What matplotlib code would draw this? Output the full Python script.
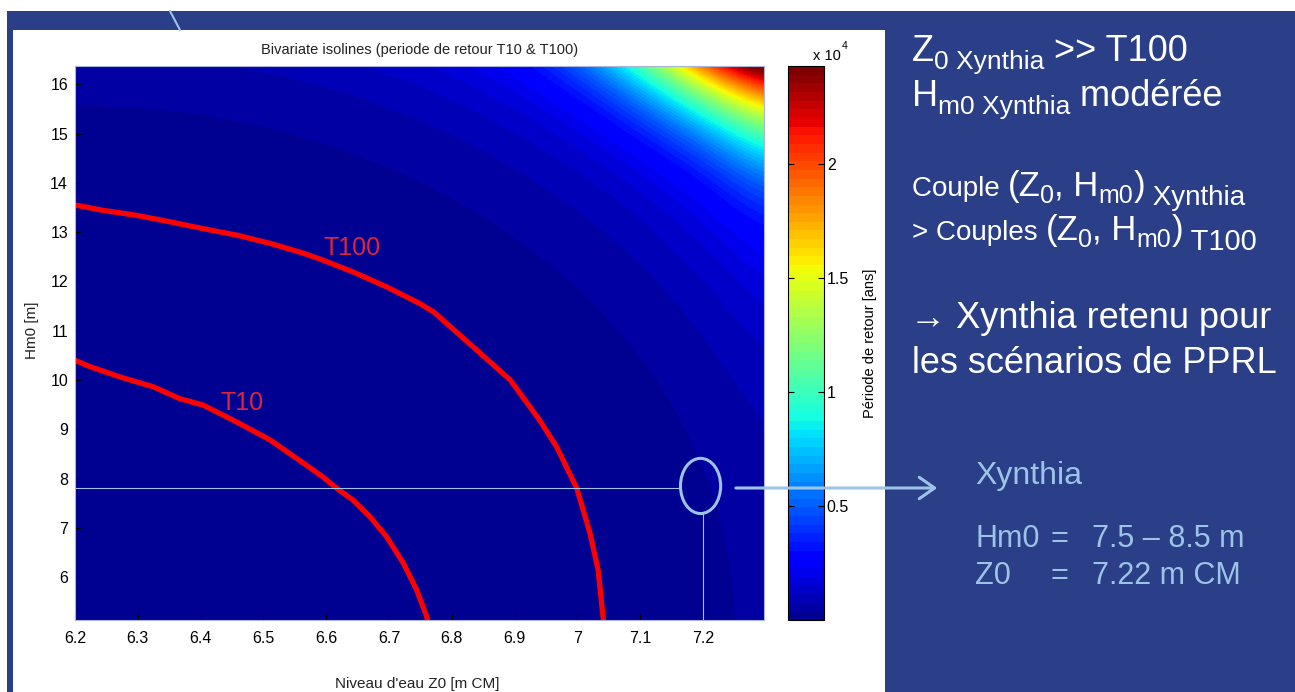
import numpy as np
import matplotlib
matplotlib.use('Agg')
import matplotlib.pyplot as plt
from matplotlib import colors, cm
from matplotlib.patches import Rectangle, Ellipse, FancyArrowPatch

# ---- values ----
z0_grid = [6.2, 6.3, 6.4, 6.5, 6.6, 6.7, 6.8, 6.9, 7.0, 7.1, 7.2, 7.3]
hm0_grid = [5, 6, 7, 8, 9, 10, 11, 12, 13, 14, 15, 16, 17]
# log10 of the return period (years), rows = hm0_grid, cols = z0_grid
log10_T = [
    [-0.77, -0.47, -0.14, 0.19, 0.52, 0.85, 1.19, 1.53, 1.86, 2.17, 2.44, 2.72],
    [-0.50, -0.36, -0.08, 0.23, 0.55, 0.88, 1.21, 1.54, 1.88, 2.18, 2.46, 2.73],
    [-0.17, -0.09, 0.11, 0.37, 0.66, 0.97, 1.29, 1.61, 1.94, 2.22, 2.49, 2.77],
    [0.16, 0.21, 0.36, 0.58, 0.83, 1.11, 1.41, 1.72, 2.03, 2.29, 2.56, 2.83],
    [0.49, 0.53, 0.65, 0.83, 1.05, 1.30, 1.58, 1.87, 2.14, 2.39, 2.65, 2.91],
    [0.82, 0.85, 0.95, 1.10, 1.30, 1.52, 1.78, 2.04, 2.27, 2.51, 2.76, 3.01],
    [1.15, 1.18, 1.26, 1.40, 1.57, 1.77, 2.00, 2.21, 2.43, 2.66, 2.89, 3.14],
    [1.49, 1.52, 1.59, 1.70, 1.86, 2.03, 2.21, 2.40, 2.60, 2.82, 3.04, 3.30],
    [1.83, 1.85, 1.92, 2.01, 2.13, 2.26, 2.42, 2.60, 2.79, 2.99, 3.23, 3.48],
    [2.14, 2.15, 2.20, 2.28, 2.38, 2.50, 2.65, 2.81, 2.99, 3.20, 3.46, 3.76],
    [2.42, 2.43, 2.47, 2.54, 2.63, 2.75, 2.88, 3.04, 3.24, 3.52, 3.82, 4.08],
    [2.70, 2.71, 2.75, 2.81, 2.89, 3.00, 3.13, 3.30, 3.56, 3.90, 4.20, 4.36],
    [2.97, 2.98, 3.02, 3.08, 3.16, 3.26, 3.38, 3.58, 3.92, 4.24, 4.48, 4.56],
]
T_max = 24300

t10_z0 = [6.200, 6.224, 6.272, 6.325, 6.367, 6.404, 6.457, 6.511, 6.564, 6.595,
          6.617, 6.643, 6.670, 6.696, 6.723, 6.744, 6.760, 6.762]
t10_hm0 = [10.40, 10.27, 10.06, 9.86, 9.62, 9.49, 9.15, 8.78, 8.31, 8.03,
           7.80, 7.56, 7.22, 6.82, 6.28, 5.74, 5.20, 5.09]
t100_z0 = [6.200, 6.245, 6.298, 6.351, 6.404, 6.457, 6.511, 6.564, 6.595, 6.643,
           6.696, 6.749, 6.771, 6.834, 6.893, 6.940, 6.967, 6.999, 7.020, 7.033,
           7.041, 7.042]
t100_hm0 = [13.55, 13.44, 13.34, 13.21, 13.07, 12.94, 12.77, 12.57, 12.43, 12.19,
            11.89, 11.55, 11.38, 10.67, 10.00, 9.18, 8.64, 7.80, 6.89, 6.14,
            5.16, 5.08]
t10_label = (6.466, 9.53)
t100_label = (6.641, 12.67)

xynthia_z0 = 7.2
xynthia_hm0 = 7.8

x_ticks = [6.2, 6.3, 6.4, 6.5, 6.6, 6.7, 6.8, 6.9, 7.0, 7.1, 7.2]
y_ticks = [6, 7, 8, 9, 10, 11, 12, 13, 14, 15, 16]
cb_ticks = [5000, 10000, 15000, 20000]
cb_labels = ['0.5', '1', '1.5', '2']

# ---- style ----
W, H = 1295, 692
slide_blue = '#2A3F87'
accent = '#9DC3E6'
sans = ['Liberation Sans', 'DejaVu Sans']
plt.rcParams['font.family'] = sans

# MATLAB style jet with 64 levels
jet64 = colors.ListedColormap(plt.get_cmap('jet')(np.arange(1, 65) / 64))

fig = plt.figure(figsize=(W / 100, H / 100), dpi=100)
fig.patch.set_facecolor('white')

# slide background
bg = fig.add_axes([0, 0, 1, 1], zorder=0)
bg.set_xlim(0, W)
bg.set_ylim(H, 0)
bg.axis('off')
bg.add_patch(Rectangle((7, 11), W - 7, H - 11, facecolor=slide_blue, edgecolor='none'))
bg.add_patch(Rectangle((13, 30), 872, H - 30, facecolor='white', edgecolor='none'))
bg.plot([170, 180], [11, 30], color=accent, lw=1.5)

# main chart
ax = fig.add_axes([75 / W, (H - 620) / H, 689 / W, 554 / H], zorder=1)
dz = z0_grid[1] - z0_grid[0]
dh = hm0_grid[1] - hm0_grid[0]
norm_img = colors.FuncNorm((lambda v: np.power(10.0, v), lambda v: np.log10(v)),
                           vmin=-1, vmax=np.log10(T_max))
ax.imshow(np.array(log10_T), origin='lower', aspect='auto', cmap=jet64, norm=norm_img,
          extent=[z0_grid[0] - dz / 2, z0_grid[-1] + dz / 2,
                  hm0_grid[0] - dh / 2, hm0_grid[-1] + dh / 2],
          interpolation='bicubic', interpolation_stage='data')

ax.plot(t10_z0, t10_hm0, color='red', lw=3.8, solid_capstyle='butt')
ax.plot(t100_z0, t100_hm0, color='red', lw=3.8, solid_capstyle='butt')
ax.text(*t10_label, 'T10', color='#E0243A', fontsize=18, ha='center', va='center')
ax.text(*t100_label, 'T100', color='#E0243A', fontsize=18, ha='center', va='center')

ax.set_xlim(6.2, 7.297)
ax.set_ylim(5.13, 16.37)
ax.set_xticks(x_ticks)
ax.set_xticklabels([f'{v:g}' for v in x_ticks])
ax.set_yticks(y_ticks)
ax.set_yticklabels([str(v) for v in y_ticks])
ax.tick_params(direction='in', length=4, labelsize=11.5, color='black')
ax.tick_params(axis='x', pad=8)
ax.tick_params(axis='y', pad=5)
for s in ax.spines.values():
    s.set_color('#a9b4d6')
    s.set_linewidth(0.8)

ax.set_title('Bivariate isolines (periode de retour T10 & T100)', fontsize=10.5,
             color='#222222', pad=9)
ax.set_xlabel("Niveau d'eau Z0 [m CM]", fontsize=11, color='#222222')
ax.xaxis.set_label_coords(0.497, -0.103)
ax.set_ylabel('Hm0 [m]', fontsize=11, color='#222222')
ax.yaxis.set_label_coords(-0.052, 0.5235)

# Xynthia marker
ell_w, ell_h = 0.064, 1.12
ell_c = (xynthia_z0 - 0.004, xynthia_hm0 + 0.05)
ax.plot([6.2, ell_c[0] - ell_w / 2], [xynthia_hm0, xynthia_hm0], color=accent, lw=0.8)
ax.plot([xynthia_z0, xynthia_z0], [5.13, ell_c[1] - ell_h / 2], color=accent, lw=0.8)
ax.add_patch(Ellipse(ell_c, ell_w, ell_h, fill=False, edgecolor=accent, lw=2.2))

# colorbar
cax = fig.add_axes([788 / W, (H - 620) / H, 36 / W, 554 / H], zorder=1)
sm = cm.ScalarMappable(norm=colors.Normalize(0, T_max), cmap=jet64)
cb = fig.colorbar(sm, cax=cax)
cb.set_ticks(cb_ticks)
cb.set_ticklabels(cb_labels)
cb.outline.set_linewidth(0.8)
cax.tick_params(axis='y', direction='in', left=True, right=True, length=4,
                labelsize=11.5, pad=2)
cb.set_label('Période de retour [ans]', fontsize=10.5, labelpad=10)

# overlay: slide texts and arrow (pixel coordinates)
ov = fig.add_axes([0, 0, 1, 1], zorder=5)
ov.set_xlim(0, W)
ov.set_ylim(H, 0)
ov.axis('off')
ov.patch.set_alpha(0)

ov.text(813, 60, 'x 10', fontsize=10.5, va='baseline', ha='left')
ov.text(842, 49, '4', fontsize=7.5, va='baseline', ha='left')

ov.add_patch(FancyArrowPatch((733, 488), (940, 488),
                             arrowstyle='->,head_length=0.5,head_width=0.35',
                             mutation_scale=22, color=accent, lw=2.2))

renderer = fig.canvas.get_renderer()


def runs(x, y, parts, color='white'):
    for s, size, drop in parts:
        t = ov.text(x, y + drop, s, fontsize=size, color=color,
                    ha='left', va='baseline')
        x += t.get_window_extent(renderer).width


runs(912, 61, [('Z', 26, 0), ('0 Xynthia', 19, 8), (' >> T100', 26, 0)])
runs(912, 106, [('H', 26, 0), ('m0 Xynthia', 19, 8), (' modérée', 26, 0)])
runs(912, 196, [('Couple ', 20, 0), ('(Z', 25, 0), ('0', 18, 7), (', H', 25, 0),
                ('m0', 18, 7), (')', 25, 0), (' Xynthia', 20, 9)])
runs(912, 240, [('> Couples ', 20, 0), ('(Z', 25, 0), ('0', 18, 7), (', H', 25, 0),
                ('m0', 18, 7), (')', 25, 0), (' T100', 21, 10)])
ov.text(910, 328, '→ Xynthia retenu pour', fontsize=26, color='white',
        va='baseline')
ov.text(912, 373, 'les scénarios de PPRL', fontsize=26, color='white',
        va='baseline')

ov.text(975, 484, 'Xynthia', fontsize=23, color=accent, va='baseline')
ov.text(975, 547, 'Hm0', fontsize=22, color=accent, va='baseline')
ov.text(1050, 547, '=', fontsize=22, color=accent, va='baseline')
ov.text(1092, 547, '7.5 – 8.5 m', fontsize=22, color=accent, va='baseline')
ov.text(975, 584, 'Z0', fontsize=22, color=accent, va='baseline')
ov.text(1050, 584, '=', fontsize=22, color=accent, va='baseline')
ov.text(1092, 584, '7.22 m CM', fontsize=22, color=accent, va='baseline')

fig.savefig('out.png', dpi=100, facecolor=fig.get_facecolor())
